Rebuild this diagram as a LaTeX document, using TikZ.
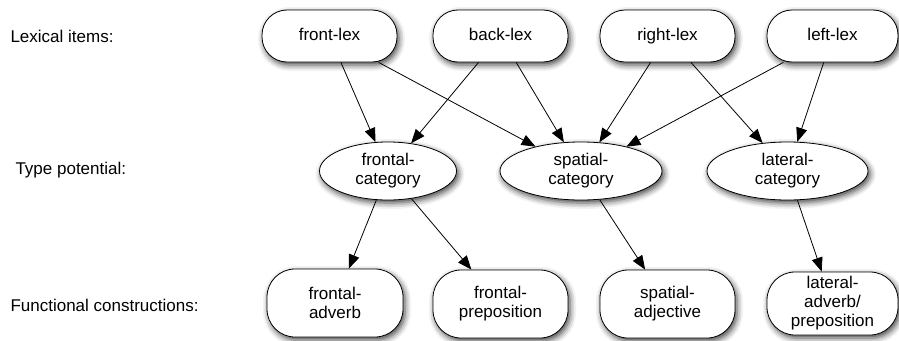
\documentclass[tikz,border=0pt]{standalone}
\usepackage{fontspec}
\setmainfont{Liberation Sans}
\usetikzlibrary{arrows.meta,shapes.geometric,shadows.blur}

\begin{document}
\begin{tikzpicture}[x=1pt,y=-1pt,
    every node/.style={font=\fontsize{17}{19}\selectfont},
    shade/.style={blur shadow={shadow xshift=2pt,shadow yshift=-3pt,shadow opacity=75,shadow blur radius=6pt}},
    lexbox/.style={draw,fill=white,line width=0.8pt,shade,rounded corners=25pt,
      minimum width=135pt,minimum height=52pt,inner sep=0pt,text height=12.5pt,text depth=3.5pt},
    catbox/.style={ellipse,draw,fill=white,line width=0.8pt,shade,align=center,
      minimum height=58pt,inner sep=0pt},
    conbox/.style={draw,fill=white,line width=0.8pt,shade,rounded corners=28pt,align=center,
      minimum width=135pt,minimum height=68pt,inner sep=0pt},
    tag/.style={anchor=west},
    link/.style={line width=0.8pt,-{Triangle[length=14pt,width=11pt]}}]
      \useasboundingbox (0,0) rectangle (899,340);
      \node[tag] (lextag) at (7,36) {Lexical items:};
      \node[tag] (typetag) at (12,170) {Type potential:};
      \node[tag] (contag) at (7,305) {Functional constructions:};
      \node[lexbox] (front) at (329.5,36) {front-lex};
      \node[lexbox] (back) at (500.5,36) {back-lex};
      \node[lexbox] (right) at (667.5,36) {right-lex};
      \node[lexbox,minimum width=131pt] (left) at (832.5,36) {left-lex};
      \node[catbox,minimum width=137pt] (frontal) at (388,171) {frontal-\\category};
      \node[catbox,minimum width=162pt] (spatial) at (581,171) {spatial-\\category};
      \node[catbox,minimum width=161pt] (lateral) at (787.5,171) {lateral-\\category};
      \node[conbox,minimum width=136pt] (fadv) at (335,303) {frontal-\\adverb};
      \node[conbox] (fprep) at (500.5,304) {frontal-\\preposition};
      \node[conbox] (sadj) at (667.5,304) {spatial-\\adjective};
      \node[conbox,minimum width=131pt,minimum height=63pt] (ladv) at (832.5,303.5) {lateral-\\adverb/\\preposition};
      \draw[link] (front) -- (frontal);
      \draw[link] (back) -- (frontal);
      \draw[link] (front) -- (spatial);
      \draw[link] (back) -- (spatial);
      \draw[link] (right) -- (spatial);
      \draw[link] (left) -- (spatial);
      \draw[link] (right) -- (lateral);
      \draw[link] (left) -- (lateral);
      \draw[link] (frontal) -- (fadv);
      \draw[link] (frontal) -- (fprep);
      \draw[link] (spatial) -- (sadj);
      \draw[link] (lateral) -- (ladv);
\end{tikzpicture}
\end{document}
